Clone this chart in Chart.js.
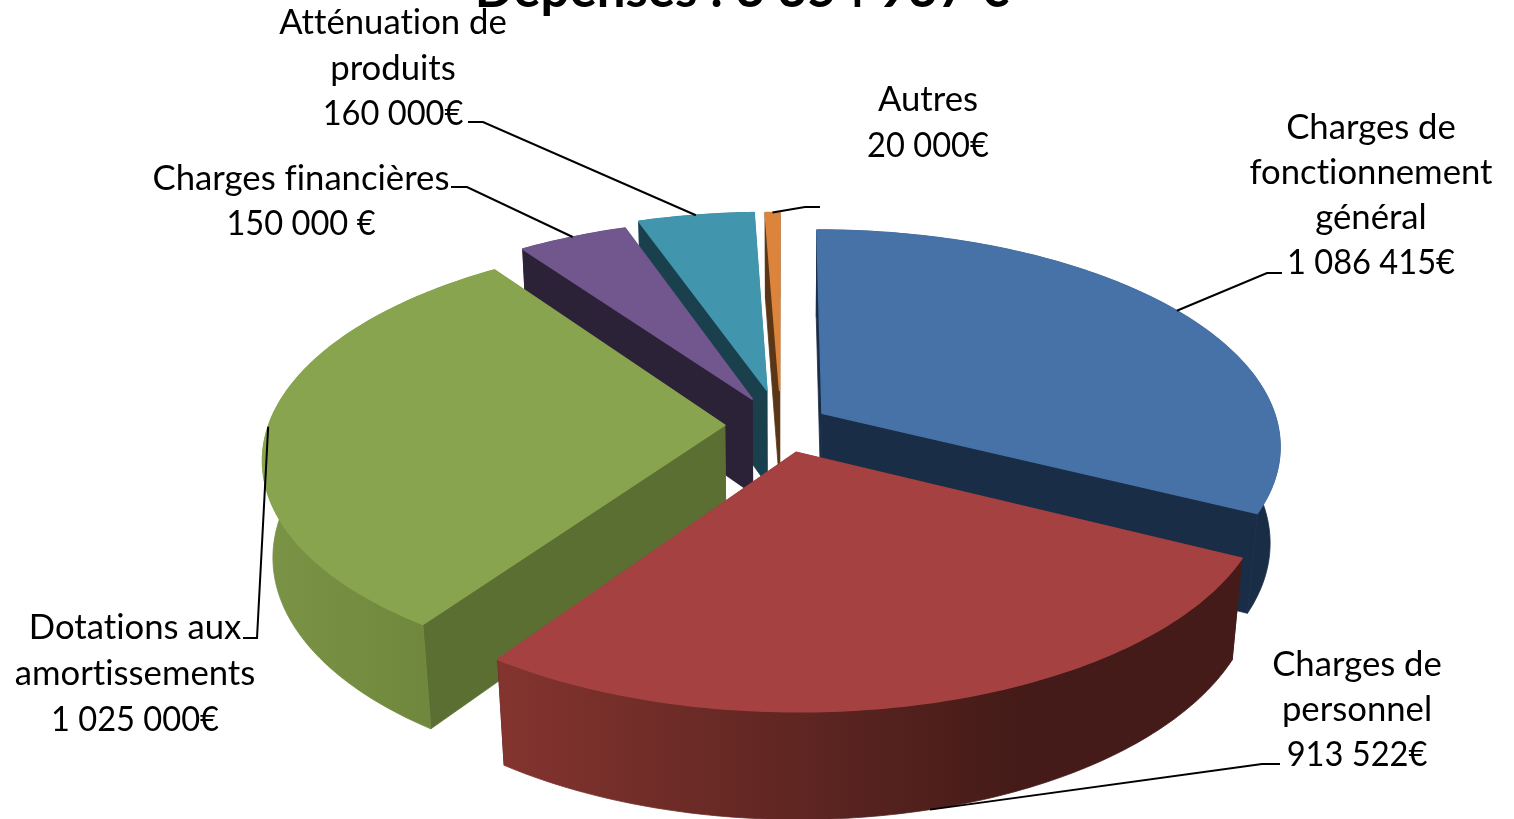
<!DOCTYPE html>
<html lang="fr">
<head>
<meta charset="utf-8">
<title>Dépenses</title>
<style>html,body{margin:0;padding:0;background:#fff;overflow:hidden}canvas{display:block}</style>
<script src="https://cdn.jsdelivr.net/npm/chart.js@4/dist/chart.umd.min.js"></script>
</head>
<body>
<canvas id="c" width="1514" height="819"></canvas>
<script>
const chartTitle = 'Dépenses : 3 354 937 €';
const categories = ['Charges de fonctionnement général','Charges de personnel','Dotations aux amortissements','Charges financières','Atténuation de produits','Autres'];
const values = [1086415, 913522, 1025000, 150000, 160000, 20000];
const labelLines = [
  ['Charges de','fonctionnement','général','1 086 415€'],
  ['Charges de','personnel','913 522€'],
  ['Dotations aux','amortissements','1 025 000€'],
  ['Charges financières','150 000 €'],
  ['Atténuation de','produits','160 000€'],
  ['Autres','20 000€']
];

// styles
const topColors = ['#4672a7','#a54241','#89a44e','#72578f','#4196ae','#dc843c'];
const radialColors = ['#1a2d46','#4a1d1b','#5c6f32','#2c2238','#1b404d','#5a3617'];
const rimStops = [['#1a2d46','#1a2d46'],['#84342f','#441b18'],['#7a9345','#6a8339'],['#2c2238','#2c2238'],['#1b404d','#1b404d'],['#5a3617','#5a3617']];
const explode = [32, 39, 37, 42, 51, 50];
const drawOrder = [5,4,3,0,2,1];
const labelPos = [[1371,128,45],[1357,665,45],[135,628,46],[301,179,45],[393,23,45.5],[928,100,46]];
const elbows = [
  [[1282,273],[1267,273]], [[1280,764],[1262,764]], [[243,638],[257,638]],
  [[451,187],[467,187]], [[468,122],[483,122]], [[820,207],[805,207]]
];
const leaderDepth = [0,1,0,0,0,0];
const view = {cx:781, cy:425, A:456, B:213, C:98, p:0.1454, q:0.02};

function project(u,v,d){
  const w = 1 - view.p*v + view.q*d;
  return [view.cx + view.A*u/w, view.cy + (view.B*v + view.C*d)/w];
}
function sliceGeom(el){
  const a1 = el.startAngle + Math.PI/2, a2 = el.endAngle + Math.PI/2, mid = (a1+a2)/2;
  const n = el.options.offset / el.outerRadius;
  return {a1,a2,mid,ou:n*Math.sin(mid),ov:-n*Math.cos(mid)};
}
function rimPts(g,d){
  const steps = Math.max(6,Math.ceil((g.a2-g.a1)*60)), pts=[];
  for(let i=0;i<=steps;i++){
    const t=g.a1+(g.a2-g.a1)*i/steps;
    pts.push(project(g.ou+Math.sin(t),g.ov-Math.cos(t),d));
  }
  return pts;
}
function poly(ctx,pts,fill,seal){
  ctx.beginPath();
  pts.forEach((p,i)=> i?ctx.lineTo(p[0],p[1]):ctx.moveTo(p[0],p[1]));
  ctx.closePath();
  ctx.fillStyle=fill; ctx.fill();
  if(seal){ ctx.strokeStyle=fill; ctx.lineWidth=seal; ctx.stroke(); }
}
const pie3d = {
  id:'pie3d',
  beforeDatasetDraw(chart,args){
    const ctx=chart.ctx, els=chart.getDatasetMeta(args.index).data;
    ctx.save();
    ctx.lineJoin='round';
    drawOrder.forEach(i=>{
      const el=els[i], g=sliceGeom(el);
      const top=rimPts(g,0), bot=rimPts(g,1);
      const a0=project(g.ou,g.ov,0), a1=project(g.ou,g.ov,1);
      // radial walls
      poly(ctx,[a0,top[0],bot[0],a1],radialColors[i],0.8);
      poly(ctx,[a0,top[top.length-1],bot[bot.length-1],a1],radialColors[i],0.8);
      // rim wall
      const xs=top.concat(bot).map(p=>p[0]);
      const grad=ctx.createLinearGradient(Math.min(...xs),0,Math.max(...xs),0);
      grad.addColorStop(0,rimStops[i][0]);
      grad.addColorStop(i===1?0.7:1,rimStops[i][1]);
      if(i===1) grad.addColorStop(1,rimStops[i][1]);
      poly(ctx,top.concat(bot.slice().reverse()),grad,0.8);
      // top face
      poly(ctx,[a0].concat(top),el.options.backgroundColor,1.6);
    });
    ctx.restore();
    return false;
  },
  afterDatasetsDraw(chart){
    const ctx=chart.ctx, els=chart.getDatasetMeta(0).data;
    ctx.save();
    ctx.strokeStyle='#000'; ctx.lineWidth=2;
    els.forEach((el,i)=>{
      const g=sliceGeom(el);
      const tip=project(g.ou+Math.sin(g.mid),g.ov-Math.cos(g.mid),leaderDepth[i]);
      ctx.beginPath();
      ctx.moveTo(elbows[i][0][0],elbows[i][0][1]);
      ctx.lineTo(elbows[i][1][0],elbows[i][1][1]);
      ctx.lineTo(tip[0],tip[1]);
      ctx.stroke();
    });
    ctx.fillStyle='#000';
    ctx.font='34.7px Lato';
    ctx.letterSpacing='0.001px';
    ctx.textAlign='center'; ctx.textBaseline='middle';
    labelLines.forEach((lines,i)=>{
      const [x,y,lh]=labelPos[i];
      lines.forEach((t,k)=>{
        const full=ctx.measureText(t).width;
        ctx.fillText(t,x,y+k*lh,/\d/.test(t)?full*0.94:full+2);
      });
    });
    ctx.restore();
  }
};
new Chart(document.getElementById('c'),{
  type:'pie',
  data:{labels:categories,datasets:[{data:values,backgroundColor:topColors,borderWidth:0,offset:explode}]},
  options:{
    responsive:false,animation:false,events:[],radius:300,
    layout:{padding:{right:30}},
    plugins:{
      legend:{display:false},tooltip:{enabled:false},
      title:{display:true,text:chartTitle,color:'#000',font:{family:'Lato',size:51,weight:'bold'},padding:{top:-40,bottom:0}}
    }
  },
  plugins:[pie3d]
});
</script>
</body>
</html>
